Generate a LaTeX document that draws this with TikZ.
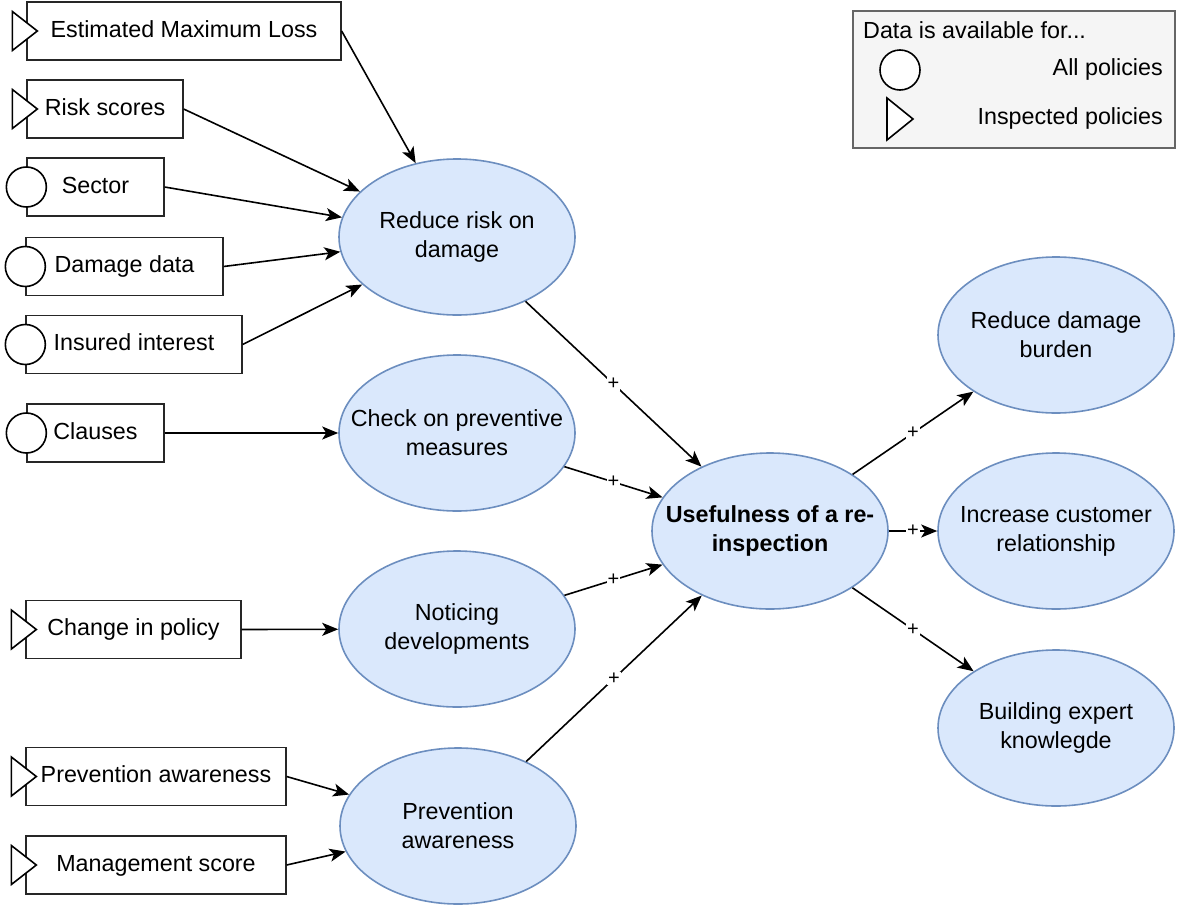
\documentclass[tikz,border=0pt]{standalone}
\usepackage{fontspec}
\setmainfont{Liberation Sans}
\usetikzlibrary{shapes.geometric,arrows.meta,calc}

\definecolor{nodefill}{HTML}{DAE8FC}
\definecolor{nodeline}{HTML}{6C8EBF}
\definecolor{legendfill}{HTML}{F5F5F5}
\definecolor{legendline}{HTML}{666666}

% triangle marker: data available for inspected policies
\newcommand\inspectedmark[2]{%
  \draw[markline] ($(#1.west)+(-14,-19.5)$) coordinate (#2)
    -- ++(25,19.5) -- ++(-25,19.5) -- cycle;}
% circle marker: data available for all policies
\newcommand\allmark[2]{\node[allpol] (#2) at (#1.west) {};}

\begin{document}
\begin{tikzpicture}[x=1pt,y=-1pt,
  every node/.style={font=\fontsize{23.3}{29}\selectfont},
  databox/.style={draw=black!85, line width=1.3pt, fill=white,
    minimum height=58pt, inner sep=0pt, text height=17pt, text depth=5pt},
  concept/.style={ellipse, draw=nodeline, fill=nodefill, line width=1.6pt,
    minimum width=236pt, minimum height=156pt, inner xsep=-40pt,
    inner ysep=0pt, align=center},
  allpol/.style={circle, draw=black, fill=white, line width=1.6pt,
    minimum size=40pt, inner sep=0pt},
  markline/.style={draw=black, fill=white, line width=1.6pt, line join=miter},
  link/.style={draw, line width=1.6pt,
    -{Stealth[length=16pt,width=13pt,inset=4pt]}},
  plus/.style={fill=white, inner sep=1pt, font=\fontsize{20}{22}\selectfont},
]
\useasboundingbox (0,0) rectangle (1177,905);

% data sources
\node[databox, minimum width=314pt] (eml)     at (184,31)    {Estimated Maximum Loss};
\node[databox, minimum width=156pt] (risk)    at (105,109)   {Risk scores};
\node[databox, minimum width=137pt] (sector)  at (95.5,187)  {Sector};
\node[databox, minimum width=197pt] (damage)  at (124.5,266.5) {Damage data};
\node[databox, minimum width=216pt] (insured) at (134,344.5) {Insured interest};
\node[databox, minimum width=137pt] (clauses) at (95.5,433)  {Clauses};
\node[databox, minimum width=215pt] (change)  at (133.5,629.5) {Change in policy};
\node[databox, minimum width=260pt] (prevbox) at (156,776.5) {Prevention awareness};
\node[databox, minimum width=260pt] (mgmt)    at (156,865)   {Management score};

\inspectedmark{eml}{emlmark}
\inspectedmark{risk}{riskmark}
\allmark{sector}{sectormark}
\allmark{damage}{damagemark}
\allmark{insured}{insuredmark}
\allmark{clauses}{clausesmark}
\inspectedmark{change}{changemark}
\inspectedmark{prevbox}{prevboxmark}
\inspectedmark{mgmt}{mgmtmark}

% concepts
\node[concept] (rr)     at (457,237)  {Reduce risk on\\damage};
\node[concept] (check)  at (457,433)  {Check on preventive\\measures};
\node[concept] (notice) at (457,629)  {Noticing\\developments};
\node[concept] (prev)   at (458,826)  {Prevention\\awareness};
\node[concept] (use)    at (770,531)  {\textbf{Usefulness of a re-}\\\textbf{inspection}};
\node[concept] (burden) at (1056,335) {Reduce damage\\burden};
\node[concept] (cust)   at (1056,531) {Increase customer\\relationship};
\node[concept] (expert) at (1056,728) {Building expert\\knowlegde};

% inputs
\draw[link] (eml.east) -- (rr);
\draw[link] (risk.east) -- (rr);
\draw[link] (sector.east) -- (rr);
\draw[link] (damage.east) -- (rr);
\draw[link] (insured.east) -- (rr);
\draw[link] (clauses.east) -- (check);
\draw[link] (change.east) -- (notice);
\draw[link] (prevbox.east) -- (prev);
\draw[link] (mgmt.east) -- (prev);

% positive influences
\draw[link] (rr) -- node[plus] {+} (use);
\draw[link] (check) -- node[plus] {+} (use);
\draw[link] (notice) -- node[plus] {+} (use);
\draw[link] (prev) -- node[plus] {+} (use);
\draw[link] (use) -- node[plus] {+} (burden);
\draw[link] (use) -- node[plus] {+} (cust);
\draw[link] (use) -- node[plus] {+} (expert);

% legend
\node[draw=legendline, fill=legendfill, line width=1.3pt, minimum width=322pt,
  minimum height=137pt, inner sep=0pt] (legend) at (1014,79.5) {};
\node[anchor=west, inner sep=0pt] (legtitle) at (863,30) {Data is available for...};
\node[allpol] (legcircle) at (900,70) {};
\node[anchor=east, inner sep=0pt] (legall) at (1163,69) {All policies};
\draw[markline] (887,98) coordinate (legtri) -- (913,119) -- (887,140) -- cycle;
\node[anchor=east, inner sep=0pt] (legins) at (1163,118) {Inspected policies};
\end{tikzpicture}
\end{document}
